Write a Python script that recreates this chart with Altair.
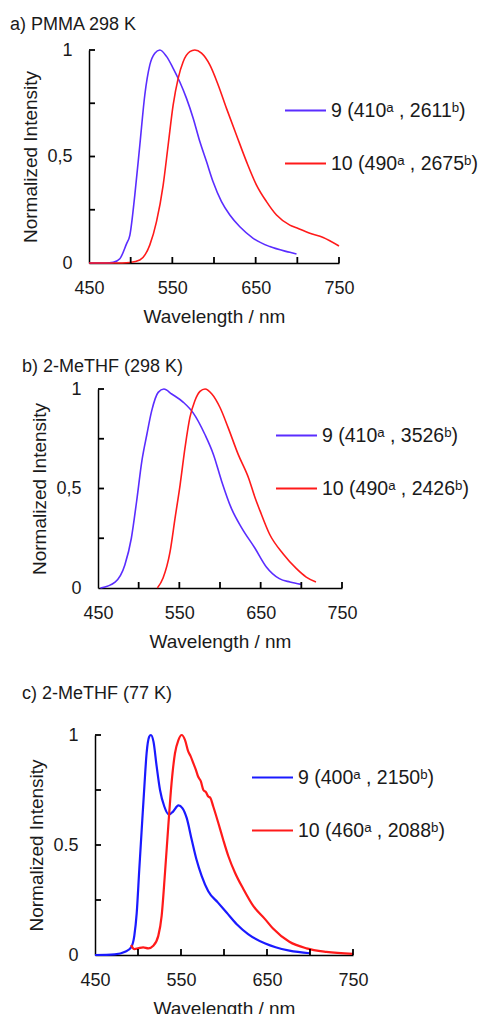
import altair as alt
import pandas as pd

FONT = "Liberation Sans"
TXT = "#1a1a1a"

# ---------------- data ----------------
# a) PMMA 298 K
a_wl_9 = [450, 470, 479, 487, 495, 499, 505, 511, 517, 523, 529, 535, 543, 551, 559, 567, 575,
          583, 591, 599, 609, 619, 631, 647, 667, 691, 699]
a_in_9 = [0, 0, 0.003, 0.02, 0.09, 0.13, 0.32, 0.554, 0.79, 0.93, 0.985, 1.0, 0.97, 0.914, 0.85,
          0.773, 0.68, 0.57, 0.476, 0.38, 0.288, 0.225, 0.17, 0.116, 0.077, 0.05, 0.042]
a_wl_10 = [450, 490, 499, 511, 523, 531, 539, 545, 551, 557, 563, 571, 577, 585, 595, 605, 615,
           627, 639, 651, 663, 675, 691, 699, 715, 731, 750]
a_in_10 = [0, 0, 0.002, 0.014, 0.085, 0.194, 0.366, 0.554, 0.742, 0.867, 0.945, 0.992, 1.0, 0.985,
           0.93, 0.836, 0.726, 0.6, 0.476, 0.366, 0.288, 0.225, 0.178, 0.165, 0.14, 0.12, 0.08]

# b) 2-MeTHF (298 K)
b_wl_9 = [453, 471, 483, 491, 497.5, 504, 510, 516, 524, 531, 540.6, 555, 567, 581.6, 592, 602,
          614, 627, 643, 657, 673, 686, 700]
b_in_9 = [0, 0.03, 0.116, 0.25, 0.436, 0.64, 0.77, 0.89, 0.983, 1.0, 0.975, 0.933, 0.88, 0.77,
          0.67, 0.537, 0.40, 0.30, 0.20, 0.106, 0.047, 0.03, 0.018]
b_wl_10 = [523, 530, 538.5, 544.7, 551, 557, 563, 569, 575.4, 581.6, 590, 600, 610, 622.5, 635,
           643, 649, 661, 678, 694, 706, 718]
b_in_10 = [0, 0.05, 0.18, 0.35, 0.52, 0.705, 0.857, 0.94, 0.988, 1.0, 0.975, 0.907, 0.806, 0.67,
           0.554, 0.455, 0.39, 0.27, 0.17, 0.097, 0.055, 0.03]

# c) 2-MeTHF (77 K)
c_wl_9 = [450, 473, 485, 492, 495.7, 498.5, 501.5, 504.3, 507.4, 510, 513, 515, 518, 521.7, 525.6,
          530.6, 536, 541, 547, 551.6, 556.6, 562.4, 568, 574, 581.7, 593, 603, 614.8, 628, 648,
          660, 676, 700]
c_in_9 = [0, 0.003, 0.015, 0.035, 0.087, 0.19, 0.39, 0.57, 0.766, 0.917, 0.992, 1.0, 0.97, 0.857,
          0.75, 0.675, 0.638, 0.653, 0.68, 0.668, 0.623, 0.525, 0.434, 0.36, 0.29, 0.238, 0.193,
          0.14, 0.095, 0.052, 0.035, 0.02, 0.008]
c_wl_10 = [492, 495.7, 500, 506, 512, 517.8, 523.6, 527.5, 531.4, 535.2, 539, 543, 547, 550.8,
           554.7, 558.5, 561, 564.3, 567, 570, 573, 576, 579, 581.7, 584, 587.5, 593.4, 599, 605,
           612.8, 622.5, 634, 647.7, 657, 676, 696, 719, 750]
c_in_10 = [0.045, 0.027, 0.03, 0.035, 0.03, 0.042, 0.087, 0.178, 0.374, 0.585, 0.78, 0.917, 0.977,
           1.0, 0.977, 0.924, 0.905, 0.872, 0.845, 0.81, 0.79, 0.75, 0.74, 0.72, 0.715, 0.675, 0.6,
           0.525, 0.45, 0.374, 0.3, 0.223, 0.163, 0.12, 0.06, 0.03, 0.014, 0.005]

a_labels = ["9 (410\u1d43 , 2611\u1d47)", "10 (490\u1d43 , 2675\u1d47)"]
b_labels = ["9 (410\u1d43 , 3526\u1d47)", "10 (490\u1d43 , 2426\u1d47)"]
c_labels = ["9  (400\u1d43 , 2150\u1d47)", "10 (460\u1d43 , 2088\u1d47)"]

x_minor_ticks = [500, 550, 600, 650, 700, 750]
y_minor_ticks = [0.25, 0.5, 0.75, 1.0]
x_label_values = [450, 550, 650, 750]
y_label_values = [0, 0.5, 1]
y_labels_comma = ["0", "0,5", "1"]
y_labels_dot = ["0", "0.5", "1"]

TICK_PX = 6
X_MIN, X_MAX = 450, 750


def label_expr(values, labels):
    expr = "''"
    for v, l in reversed(list(zip(values, labels))):
        expr = f"datum.value == {v} ? '{l}' : ({expr})"
    return expr


def panel(title, series, labels, colors, ylabels, w, h, dx, top, leg_x, leg_y,
          title_dx, title_dy, sw):
    rows = []
    for lab, (wl, iv) in zip(labels, series):
        for x, y in zip(wl, iv):
            rows.append({"wl": x, "I": y, "s": lab})
    df = pd.DataFrame(rows)

    xs = alt.Scale(domain=[X_MIN, X_MAX], range=[dx, dx + w], nice=False, zero=False)
    ys = alt.Scale(domain=[0, 1], range=[top + h, top], nice=False, zero=False)
    x_axis = alt.Axis(values=x_label_values, format="d", title="Wavelength / nm", grid=False,
                      ticks=False, tickSize=0, domainColor="black", domainWidth=1.5,
                      labelFont=FONT, labelFontSize=18, labelColor=TXT, labelPadding=16,
                      labelFlush=False, titleFont=FONT, titleFontSize=19,
                      titleFontWeight="normal", titleColor=TXT, titlePadding=10)
    y_axis = alt.Axis(values=y_label_values, labelExpr=label_expr(y_label_values, ylabels),
                      title="Normalized Intensity", grid=False, ticks=False, tickSize=0,
                      domainColor="black", domainWidth=1.5, labelFont=FONT, labelFontSize=18,
                      labelColor=TXT, labelPadding=17, labelFlush=False, titleFont=FONT,
                      titleFontSize=19, titleFontWeight="normal", titleColor=TXT,
                      titlePadding=6, offset=-dx)

    lines = alt.Chart(df).mark_line(strokeWidth=sw, interpolate="monotone").encode(
        x=alt.X("wl:Q", scale=xs, axis=x_axis),
        y=alt.Y("I:Q", scale=ys, axis=y_axis),
        color=alt.Color("s:N", scale=alt.Scale(domain=labels, range=colors),
                        legend=alt.Legend(orient="none", legendX=leg_x, legendY=leg_y,
                                          title=None, symbolType="stroke",
                                          symbolSize=41 * 41, symbolStrokeWidth=2,
                                          labelFont=FONT, labelFontSize=19.5, labelColor=TXT,
                                          labelOffset=4, rowPadding=22, padding=0,
                                          labelLimit=300)),
    )

    # inward-pointing minor ticks, lengths converted from pixels to data units
    ylen = TICK_PX / h
    xlen = TICK_PX * (X_MAX - X_MIN) / w
    xt_df = pd.DataFrame({"t": x_minor_ticks, "y0": 0.0, "y1": ylen})
    yt_df = pd.DataFrame({"u": y_minor_ticks, "x0": float(X_MIN), "x1": X_MIN + xlen})
    xt = alt.Chart(xt_df).mark_rule(color="black", strokeWidth=1.8).encode(
        x=alt.X("t:Q", scale=xs),
        y=alt.Y("y0:Q", scale=ys),
        y2="y1:Q",
    )
    yt = alt.Chart(yt_df).mark_rule(color="black", strokeWidth=1.8).encode(
        y=alt.Y("u:Q", scale=ys),
        x=alt.X("x0:Q", scale=xs),
        x2="x1:Q",
    )

    return alt.layer(lines, xt, yt).properties(
        width=dx + w, height=top + h,
        title=alt.TitleParams(title, anchor="start", frame="group", font=FONT, fontSize=18,
                              fontWeight="normal", color=TXT, dx=title_dx, dy=title_dy,
                              offset=0, baseline="alphabetic"),
    )


pa = panel("a) PMMA 298 K", [(a_wl_9, a_in_9), (a_wl_10, a_in_10)], a_labels,
           ["#5a2dff", "#ff1a1a"], y_labels_comma, 250, 213, 0, 0, 195, 39, -79, 7, 1.6)
pb = panel("b) 2-MeTHF (298 K)", [(b_wl_9, b_in_9), (b_wl_10, b_in_10)], b_labels,
           ["#5a2dff", "#ff1a1a"], y_labels_comma, 244, 199, 9, 26, 186, 51, -67, 27, 1.6)
pc = panel("c) 2-MeTHF (77 K)", [(c_wl_9, c_in_9), (c_wl_10, c_in_10)], c_labels,
           ["#1a1aff", "#ff1a1a"], y_labels_dot, 258, 220, 6, 47, 162, 68, -67, 29, 2.2)

chart = alt.vconcat(pa, pb, pc, spacing=100, bounds="flush").properties(
    padding={"left": 2, "top": 8, "right": 0, "bottom": 0}
).resolve_scale(color="independent").configure_view(stroke=None)

chart.save("out.html", embed_options={"renderer": "svg", "actions": False})
